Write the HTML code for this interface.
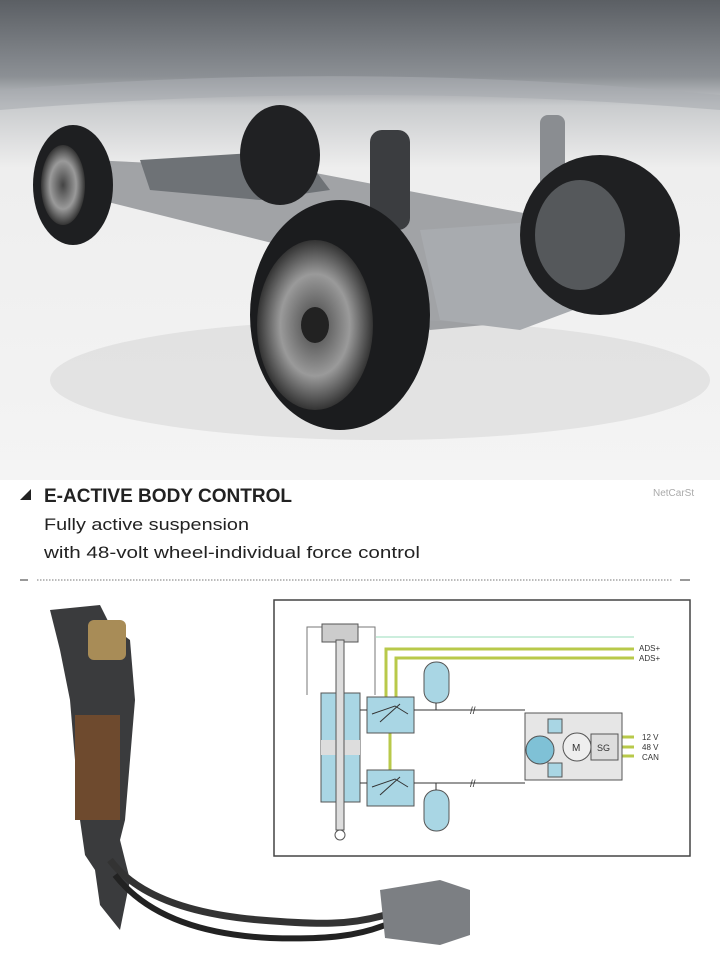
<!DOCTYPE html>
<html><head><meta charset="utf-8"><style>
body{margin:0;width:720px;height:961px;overflow:hidden;background:#fff;font-family:"Liberation Sans",sans-serif}
svg{position:absolute;left:0;top:0}
</style></head><body>
<svg width="720" height="961" viewBox="0 0 720 961" xmlns="http://www.w3.org/2000/svg">
<defs>
<linearGradient id="bg" x1="0" y1="0" x2="0" y2="1">
<stop offset="0" stop-color="#5b5f64"/><stop offset="0.16" stop-color="#8c9095"/><stop offset="0.22" stop-color="#c9cbcd"/><stop offset="0.35" stop-color="#eeeeee"/><stop offset="1" stop-color="#f4f4f4"/></linearGradient>
<radialGradient id="rim" cx="0.5" cy="0.5" r="0.5"><stop offset="0" stop-color="#444"/><stop offset="0.6" stop-color="#9a9a9a"/><stop offset="1" stop-color="#333"/></radialGradient>
</defs>
<rect x="0" y="0" width="720" height="480" fill="url(#bg)"/>
<path d="M0 90 Q360 60 720 95 L720 110 Q360 80 0 110Z" fill="#a9acb0" opacity="0.6"/>
<!-- shadow -->
<ellipse cx="380" cy="380" rx="330" ry="60" fill="#d8d8d8" opacity="0.6"/>
<!-- chassis -->
<path d="M90 160 L300 170 L560 220 L600 270 L540 320 L430 330 L300 250 L100 200Z" fill="#8d9094" opacity="0.8"/>
<path d="M140 160 L300 150 L330 190 L260 200 L150 190Z" fill="#6e7276"/>
<path d="M420 230 L560 220 L600 300 L520 330 L440 320Z" fill="#a8abaf"/>
<rect x="370" y="130" width="40" height="100" rx="12" fill="#3b3d40"/>
<rect x="540" y="115" width="25" height="110" rx="8" fill="#8a8d91"/>
<!-- rear wheels -->
<ellipse cx="73" cy="185" rx="40" ry="60" fill="#1e1f21"/>
<ellipse cx="63" cy="185" rx="22" ry="40" fill="url(#rim)"/>
<ellipse cx="280" cy="155" rx="40" ry="50" fill="#202123"/>
<!-- front right wheel -->
<ellipse cx="600" cy="235" rx="80" ry="80" fill="#1f2022"/>
<ellipse cx="580" cy="235" rx="45" ry="55" fill="#55585b"/>
<!-- front left wheel -->
<ellipse cx="340" cy="315" rx="90" ry="115" fill="#1b1c1e"/>
<ellipse cx="315" cy="325" rx="58" ry="85" fill="url(#rim)"/>
<ellipse cx="315" cy="325" rx="14" ry="18" fill="#222"/>
<!-- header -->
<path d="M20 500 L31 489 L31 500Z" fill="#222"/>
<text x="44" y="502" font-size="19" font-weight="bold" fill="#222" textLength="248" lengthAdjust="spacingAndGlyphs">E-ACTIVE BODY CONTROL</text>
<text x="653" y="496" font-size="10" fill="#aaa">NetCarSt</text>
<text x="44" y="530" font-size="17" fill="#222" textLength="205" lengthAdjust="spacingAndGlyphs">Fully active suspension</text>
<text x="44" y="558" font-size="17" fill="#222" textLength="376" lengthAdjust="spacingAndGlyphs">with 48-volt wheel-individual force control</text>
<line x1="20" y1="580" x2="28" y2="580" stroke="#333"/>
<line x1="37" y1="580" x2="673" y2="580" stroke="#777" stroke-dasharray="1.5 1.5"/>
<line x1="680" y1="580" x2="690" y2="580" stroke="#333"/>
<!-- strut photo -->
<path d="M50 610 L100 605 L110 625 L130 640 L135 700 L125 820 L120 840 L130 880 L120 930 L100 905 L95 870 L85 855 L80 820 L70 700 L60 650Z" fill="#3a3b3d"/>
<rect x="75" y="715" width="45" height="105" fill="#6e4a2e"/>
<rect x="88" y="620" width="38" height="40" rx="6" fill="#a88c57"/>
<path d="M110 860 C140 900 200 915 260 920 C320 925 350 925 385 915" stroke="#333" stroke-width="7" fill="none"/>
<path d="M115 875 C150 920 210 935 270 938 C330 940 360 935 385 925" stroke="#222" stroke-width="6" fill="none"/>
<path d="M380 890 L440 880 L470 890 L470 935 L440 945 L385 938Z" fill="#7c7f83"/>
<!-- schematic -->
<rect x="274" y="600" width="416" height="256" fill="#fff" stroke="#444" stroke-width="1.5"/>
<g stroke="#777" stroke-width="1" fill="none">
<path d="M307 695 V627 H375 V695"/>
<path d="M376 637 H634" stroke="#9db"/>
</g>
<g stroke="#b8c94a" stroke-width="3" fill="none">
<path d="M386 697 V649 H634"/>
<path d="M396 697 V658 H634"/>
<path d="M390 733 V770"/>
<path d="M562 725 H607 V735"/><path d="M562 770 H607 V760"/>
<path d="M618 737 H634 M618 747 H634 M618 756 H634"/>
</g>
<rect x="322" y="624" width="36" height="18" fill="#ccc" stroke="#555"/>
<rect x="321" y="693" width="39" height="109" fill="#a9d6e4" stroke="#555"/>
<rect x="321" y="740" width="39" height="15" fill="#ddd"/>
<rect x="336" y="640" width="8" height="190" fill="#ddd" stroke="#555"/>
<circle cx="340" cy="835" r="5" fill="#fff" stroke="#555"/>
<rect x="367" y="697" width="47" height="36" fill="#a9d6e4" stroke="#555"/>
<rect x="367" y="770" width="47" height="36" fill="#a9d6e4" stroke="#555"/>
<path d="M372 714 L395 706 L408 714 M380 722 L400 704 M372 787 L395 779 L408 787 M380 795 L400 777" stroke="#333" fill="none"/>
<path d="M360 710 H367 M414 710 H525 M360 783 H367 M414 783 H525" stroke="#333"/>
<text x="470" y="714" font-size="10" fill="#333">//</text><text x="470" y="787" font-size="10" fill="#333">//</text>
<rect x="424" y="662" width="25" height="41" rx="12" fill="#a9d6e4" stroke="#555"/>
<rect x="424" y="790" width="25" height="41" rx="12" fill="#a9d6e4" stroke="#555"/>
<path d="M436 703 V710 M436 783 V790" stroke="#333"/>
<rect x="525" y="713" width="97" height="67" fill="#e6e6e6" stroke="#555"/>
<rect x="548" y="719" width="14" height="14" fill="#a9d6e4" stroke="#555"/>
<rect x="548" y="763" width="14" height="14" fill="#a9d6e4" stroke="#555"/>
<circle cx="540" cy="750" r="14" fill="#7fc1d6" stroke="#555"/>
<circle cx="577" cy="747" r="14" fill="#eee" stroke="#555"/>
<text x="572" y="751" font-size="10" fill="#333">M</text>
<rect x="591" y="734" width="27" height="26" fill="#ddd" stroke="#555"/>
<text x="597" y="751" font-size="9" fill="#333">SG</text>
<g font-size="8" fill="#333"><text x="639" y="651">ADS+</text><text x="639" y="661">ADS+</text>
<text x="642" y="740">12 V</text><text x="642" y="750">48 V</text><text x="642" y="760">CAN</text></g>
</svg>
</body></html>
